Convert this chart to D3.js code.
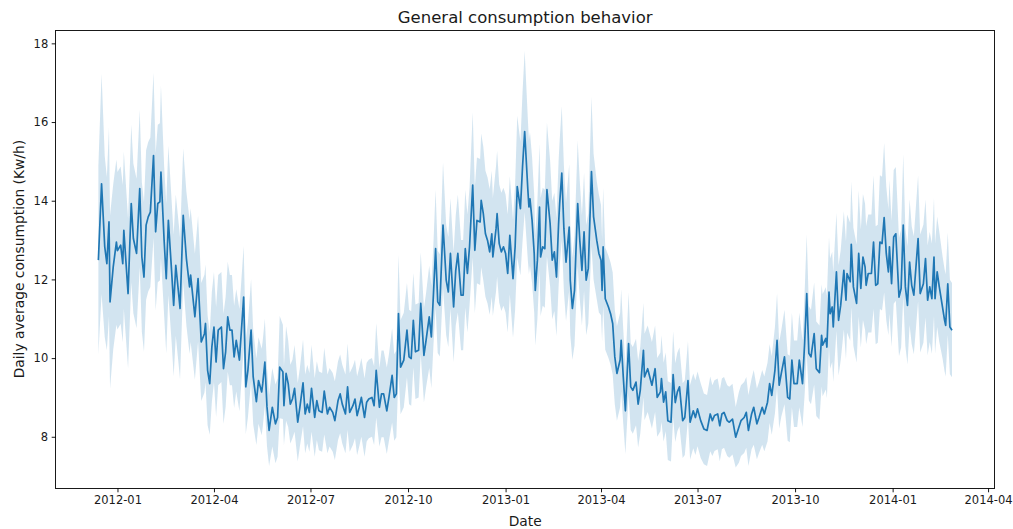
<!DOCTYPE html>
<html>
<head>
<meta charset="utf-8">
<script src="https://cdn.jsdelivr.net/npm/d3@7"></script>
<style>
  html, body { margin: 0; padding: 0; background: #fff; }
  svg { display: block; font-family: "DejaVu Sans", sans-serif; }
</style>
</head>
<body>
<svg id="chart" width="1013" height="529"></svg>
<script>
// Daily average household consumption, sampled at turning points of the daily series.
const startDay = "2011-12-14";

// days since startDay
const sampleDay = [
  0, 3, 6, 8, 10, 11, 14, 17, 18, 21,
  23, 24, 28, 31, 33, 36, 39, 41, 43, 45,
  47, 49, 52, 54, 56, 58, 59, 62, 64, 66,
  69, 71, 73, 76, 77, 80, 83, 86, 87, 91,
  94, 97, 100, 101, 103, 105, 107, 109, 111, 113,
  116, 118, 120, 122, 124, 126, 128, 130, 133, 137,
  139, 141, 144, 146, 149, 151, 154, 155, 157, 159,
  161, 164, 167, 169, 171, 174, 175, 177, 179, 181,
  183, 185, 188, 190, 193, 195, 197, 199, 201, 204,
  206, 208, 211, 213, 216, 218, 221, 223, 226, 228,
  230, 233, 235, 237, 240, 242, 244, 246, 248, 251,
  253, 255, 258, 260, 262, 265, 267, 269, 272, 274,
  277, 279, 281, 283, 285, 288, 291, 293, 295, 297,
  299, 302, 304, 307, 309, 312, 314, 316, 318, 320,
  322, 325, 328, 330, 332, 335, 337, 339, 342, 344,
  346, 348, 350, 353, 355, 357, 360, 361, 363, 365,
  367, 369, 371, 372, 375, 376, 378, 380, 382, 384,
  386, 388, 391, 393, 395, 398, 400, 402, 405, 406,
  407, 409, 411, 412, 414, 416, 417, 419, 421, 423,
  426, 428, 430, 432, 434, 435, 437, 439, 441, 444,
  445, 447, 449, 452, 454, 456, 458, 460, 462, 465,
  467, 470, 472, 474, 475, 476, 478, 481, 483, 485,
  487, 489, 492, 493, 495, 497, 500, 502, 504, 507,
  509, 511, 514, 515, 518, 520, 522, 525, 527, 530,
  531, 533, 535, 537, 540, 542, 544, 546, 548, 551,
  553, 556, 558, 561, 563, 565, 568, 571, 574, 577,
  579, 581, 584, 586, 588, 590, 593, 595, 598, 601,
  604, 606, 609, 611, 613, 616, 618, 621, 623, 626,
  628, 631, 633, 635, 638, 640, 642, 644, 647, 650,
  652, 654, 656, 659, 661, 664, 666, 668, 670, 672,
  675, 677, 680, 682, 683, 686, 687, 689, 690, 692,
  693, 696, 698, 700, 703, 705, 706, 709, 710, 712,
  715, 717, 719, 721, 723, 724, 726, 729, 731, 733,
  735, 737, 739, 741, 743, 745, 746, 748, 750, 752,
  755, 757, 759, 761, 763, 765, 767, 769, 773, 775,
  778, 780, 782, 784, 786, 788, 789, 791, 793, 796,
  798, 799, 801, 803, 805
];

// mean daily consumption (Kw/h)
const meanKwh = [
  12.49, 14.43, 12.83, 12.40, 13.46, 11.43, 12.32, 12.95, 12.73, 12.87,
  12.40, 13.25, 11.64, 13.93, 13.04, 12.66, 14.31, 12.57, 12.06, 13.38,
  13.59, 13.71, 15.15, 13.21, 13.93, 13.97, 14.73, 12.99, 12.02, 13.50,
  12.23, 11.34, 12.36, 11.55, 11.26, 13.63, 12.53, 11.81, 12.11, 11.05,
  12.02, 10.41, 10.62, 10.88, 9.69, 9.35, 10.28, 10.79, 9.90, 10.71,
  10.79, 9.73, 10.16, 11.05, 10.71, 10.71, 10.03, 10.45, 9.95, 11.55,
  9.27, 9.69, 10.71, 9.52, 8.89, 9.43, 9.14, 9.35, 9.90, 8.76,
  8.16, 8.75, 8.33, 8.49, 9.77, 9.65, 8.79, 9.61, 9.35, 8.83,
  8.96, 9.23, 8.37, 8.75, 9.37, 8.58, 8.83, 8.62, 9.23, 8.49,
  8.92, 8.66, 8.62, 9.16, 8.58, 8.75, 8.62, 8.41, 8.92, 9.09,
  8.83, 8.58, 9.27, 8.62, 8.79, 8.96, 8.54, 8.75, 9.00, 8.49,
  8.88, 8.96, 9.00, 8.79, 9.69, 8.75, 9.09, 9.09, 8.66, 9.00,
  9.56, 9.00, 9.09, 11.13, 9.77, 9.95, 10.71, 10.03, 9.99, 10.96,
  10.16, 10.20, 11.39, 10.07, 10.45, 11.05, 10.54, 11.64, 12.78, 11.43,
  11.34, 13.38, 11.98, 11.68, 12.66, 11.30, 12.23, 12.66, 11.60, 11.60,
  12.78, 12.15, 12.83, 14.40, 12.74, 13.50, 13.46, 14.01, 13.67, 13.16,
  12.99, 12.70, 13.16, 12.57, 13.29, 13.67, 12.91, 12.70, 12.83, 12.66,
  12.15, 13.12, 12.02, 12.83, 14.36, 13.80, 14.87, 15.76, 14.28, 13.84,
  14.05, 13.50, 12.66, 11.72, 12.49, 13.84, 12.57, 12.83, 12.78, 14.28,
  13.42, 12.49, 12.70, 12.06, 13.42, 13.93, 14.70, 13.29, 12.44, 13.33,
  11.98, 11.26, 11.72, 13.93, 12.99, 12.23, 13.21, 11.98, 12.28, 14.74,
  13.59, 12.99, 12.66, 12.49, 11.72, 12.83, 11.51, 11.30, 11.13, 10.88,
  10.03, 9.61, 9.95, 10.45, 9.52, 8.66, 10.37, 9.27, 9.18, 9.39,
  8.83, 9.18, 10.20, 9.52, 9.73, 9.52, 9.31, 9.73, 9.00, 9.14,
  9.48, 8.88, 9.14, 8.41, 8.37, 9.58, 8.87, 9.14, 9.27, 8.41,
  8.49, 9.43, 8.37, 8.66, 8.49, 8.71, 8.41, 8.20, 8.16, 8.58,
  8.41, 8.54, 8.58, 8.28, 8.58, 8.62, 8.41, 8.37, 8.45, 7.99,
  8.24, 8.41, 8.49, 8.62, 8.16, 8.58, 8.75, 8.33, 8.49, 8.75,
  8.58, 8.88, 9.35, 9.05, 9.69, 10.45, 9.31, 9.61, 10.03, 9.00,
  8.96, 9.95, 9.35, 9.35, 9.95, 9.35, 10.37, 11.64, 10.12, 10.03,
  10.62, 9.73, 9.63, 10.58, 10.33, 10.50, 10.28, 11.68, 11.13, 11.30,
  10.79, 12.19, 10.96, 11.34, 12.23, 11.47, 12.15, 11.94, 12.89, 11.81,
  11.39, 12.66, 11.77, 12.57, 12.32, 11.85, 12.15, 12.15, 12.95, 11.85,
  11.89, 12.95, 12.91, 13.57, 12.66, 12.19, 12.83, 11.89, 13.08, 13.16,
  11.55, 11.77, 13.38, 11.81, 11.34, 12.44, 11.85, 11.60, 13.04, 11.64,
  11.89, 12.53, 11.47, 11.81, 11.51, 12.57, 11.51, 12.19, 11.81, 11.30,
  10.96, 10.83, 11.89, 10.79, 10.71
];

// half-width of the 95% confidence band around the mean (Kw/h)
const ciHalfWidth = [
  2.4, 2.8, 2.3, 2.2, 2.4, 2.2, 2.1, 2.1, 2.0, 2.0,
  2.0, 2.0, 1.9, 2.0, 1.9, 1.9, 2.0, 1.9, 1.9, 1.9,
  1.9, 1.9, 2.1, 2.0, 2.0, 2.0, 2.2, 1.9, 1.9, 1.9,
  1.8, 1.8, 1.8, 1.8, 1.8, 1.7, 1.7, 1.7, 1.7, 1.6,
  1.6, 1.5, 1.5, 1.5, 1.4, 1.3, 1.4, 1.4, 1.4, 1.4,
  1.4, 1.4, 1.4, 1.4, 1.4, 1.4, 1.3, 1.3, 1.3, 1.3,
  1.2, 1.2, 1.3, 1.2, 1.1, 1.1, 1.1, 1.1, 1.1, 1.0,
  0.9, 1.0, 1.0, 1.0, 1.3, 1.2, 1.0, 1.2, 1.1, 1.0,
  1.0, 1.1, 1.0, 1.0, 1.1, 1.0, 1.0, 1.0, 1.1, 1.0,
  1.0, 1.0, 1.0, 1.1, 1.0, 1.0, 1.0, 1.0, 1.0, 1.0,
  1.0, 1.0, 1.1, 1.0, 1.0, 1.0, 1.0, 1.0, 1.0, 1.0,
  1.0, 1.0, 1.0, 1.0, 1.2, 1.0, 1.1, 1.1, 1.1, 1.1,
  1.2, 1.1, 1.1, 1.5, 1.2, 1.2, 1.2, 1.2, 1.2, 1.2,
  1.2, 1.2, 1.3, 1.2, 1.2, 1.3, 1.3, 1.3, 1.5, 1.3,
  1.3, 1.6, 1.4, 1.4, 1.4, 1.4, 1.4, 1.5, 1.4, 1.4,
  1.5, 1.5, 1.5, 1.85, 1.6, 1.6, 1.6, 1.7, 1.7, 1.6,
  1.6, 1.6, 1.6, 1.5, 1.6, 1.6, 1.5, 1.5, 1.5, 1.5,
  1.5, 1.5, 1.5, 1.6, 1.8, 1.7, 1.9, 2.05, 1.8, 1.7,
  1.7, 1.6, 1.5, 1.4, 1.5, 1.6, 1.5, 1.5, 1.5, 1.7,
  1.6, 1.5, 1.5, 1.5, 1.6, 1.6, 1.7, 1.6, 1.5, 1.6,
  1.4, 1.3, 1.4, 1.6, 1.5, 1.4, 1.5, 1.4, 1.4, 1.9,
  1.6, 1.5, 1.5, 1.4, 1.3, 1.5, 1.3, 1.3, 1.3, 1.3,
  1.2, 1.2, 1.2, 1.3, 1.2, 1.1, 1.3, 1.1, 1.1, 1.1,
  1.1, 1.1, 1.2, 1.1, 1.1, 1.1, 1.1, 1.1, 1.0, 1.0,
  1.1, 1.0, 1.0, 1.0, 1.0, 1.1, 1.0, 1.0, 1.0, 0.95,
  0.95, 1.0, 0.95, 0.95, 0.95, 0.95, 0.95, 0.9, 0.9, 0.95,
  0.9, 0.9, 0.9, 0.9, 0.9, 0.9, 0.9, 0.9, 0.9, 0.77,
  0.9, 0.9, 0.9, 0.9, 0.9, 0.9, 0.95, 0.9, 0.9, 0.95,
  0.95, 1.0, 1.0, 1.0, 1.1, 1.2, 1.1, 1.1, 1.2, 1.1,
  1.1, 1.2, 1.1, 1.1, 1.2, 1.1, 1.3, 1.5, 1.2, 1.2,
  1.3, 1.2, 1.2, 1.3, 1.3, 1.3, 1.3, 1.4, 1.4, 1.4,
  1.4, 1.5, 1.4, 1.4, 1.5, 1.5, 1.5, 1.5, 1.6, 1.5,
  1.5, 1.6, 1.5, 1.6, 1.6, 1.5, 1.5, 1.5, 1.7, 1.5,
  1.5, 1.7, 1.7, 1.9, 1.7, 1.6, 1.7, 1.6, 1.7, 1.7,
  1.5, 1.5, 1.8, 1.5, 1.5, 1.6, 1.5, 1.5, 1.6, 1.5,
  1.5, 1.5, 1.4, 1.4, 1.4, 1.5, 1.4, 1.4, 1.4, 1.3,
  1.3, 1.3, 1.3, 1.2, 1.2
];

const dateTickLabels = ["2012-01", "2012-04", "2012-07", "2012-10", "2013-01",
                        "2013-04", "2013-07", "2013-10", "2014-01", "2014-04"];
const valueTicks = [8, 10, 12, 14, 16, 18];

const chartTitle = "General consumption behavior";
const xLabel = "Date";
const yLabel = "Daily average consumption (Kw/h)";

// ---- layout ----
const W = 1013, H = 529;
const margin = { top: 30, right: 18.3, bottom: 40.7, left: 55.7 };
const innerW = W - margin.left - margin.right;
const innerH = H - margin.top - margin.bottom;
const lineColor = "#1f77b4";
const textColor = "#1a1a1a";

const parseDay = d3.utcParse("%Y-%m-%d");
const parseMonth = d3.utcParse("%Y-%m");
const fmtMonth = d3.utcFormat("%Y-%m");
const t0 = parseDay(startDay);

const n = Math.min(sampleDay.length, meanKwh.length, ciHalfWidth.length);
const rows = d3.range(n).map(i => ({
  date: d3.utcDay.offset(t0, sampleDay[i]),
  mean: meanKwh[i],
  lo: meanKwh[i] - ciHalfWidth[i],
  hi: meanKwh[i] + ciHalfWidth[i]
}));

// 5% padding on both axes, as in the usual autoscaled view
const [dMin, dMax] = d3.extent(rows, d => d.date);
const span = dMax - dMin;
const x = d3.scaleUtc()
  .domain([new Date(+dMin - 0.05 * span), new Date(+dMax + 0.05 * span)])
  .range([0, innerW]);

const yMin = d3.min(rows, d => d.lo), yMax = d3.max(rows, d => d.hi);
const yPad = 0.05 * (yMax - yMin);
const y = d3.scaleLinear()
  .domain([yMin - yPad, yMax + yPad])
  .range([innerH, 0]);

const svg = d3.select("#chart");
svg.append("rect").attr("width", W).attr("height", H).attr("fill", "#fff");

const g = svg.append("g").attr("transform", `translate(${margin.left},${margin.top})`);

g.append("clipPath").attr("id", "plot-clip")
  .append("rect").attr("width", innerW).attr("height", innerH);

const plot = g.append("g").attr("clip-path", "url(#plot-clip)");

// confidence band
plot.append("path")
  .datum(rows)
  .attr("fill", lineColor)
  .attr("fill-opacity", 0.2)
  .attr("stroke", "none")
  .attr("d", d3.area().x(d => x(d.date)).y0(d => y(d.lo)).y1(d => y(d.hi)));

// mean line
plot.append("path")
  .datum(rows)
  .attr("fill", "none")
  .attr("stroke", lineColor)
  .attr("stroke-width", 1.7)
  .attr("stroke-linejoin", "round")
  .attr("d", d3.line().x(d => x(d.date)).y(d => y(d.mean)));

// axes
const xAxis = d3.axisBottom(x)
  .tickValues(dateTickLabels.map(s => parseMonth(s)))
  .tickFormat(fmtMonth)
  .tickSizeInner(4).tickSizeOuter(0).tickPadding(3.5);
const yAxis = d3.axisLeft(y)
  .tickValues(valueTicks)
  .tickFormat(d3.format("d"))
  .tickSizeInner(4).tickSizeOuter(0).tickPadding(3.5);

const gx = g.append("g").attr("transform", `translate(0,${innerH})`).call(xAxis);
const gy = g.append("g").call(yAxis);
[gx, gy].forEach(a => {
  a.select(".domain").remove();
  a.selectAll(".tick line").attr("stroke", "#000").attr("stroke-width", 0.9);
  a.selectAll(".tick text").attr("fill", textColor)
    .style("font-family", "DejaVu Sans").style("font-size", "11.5px");
});

// frame
g.append("rect")
  .attr("width", innerW).attr("height", innerH)
  .attr("fill", "none").attr("stroke", "#000").attr("stroke-width", 0.9)
  .attr("shape-rendering", "crispEdges");

// title and axis labels
svg.append("text")
  .attr("x", margin.left + innerW / 2).attr("y", 23)
  .attr("text-anchor", "middle")
  .attr("fill", textColor)
  .style("font-size", "16.5px")
  .text(chartTitle);

svg.append("text")
  .attr("x", margin.left + innerW / 2).attr("y", 525.5)
  .attr("text-anchor", "middle")
  .attr("fill", textColor)
  .style("font-size", "13.8px")
  .text(xLabel);

svg.append("text")
  .attr("transform", `translate(23.5,${margin.top + innerH / 2}) rotate(-90)`)
  .attr("text-anchor", "middle")
  .attr("fill", textColor)
  .style("font-size", "13.8px")
  .text(yLabel);
</script>
</body>
</html>
